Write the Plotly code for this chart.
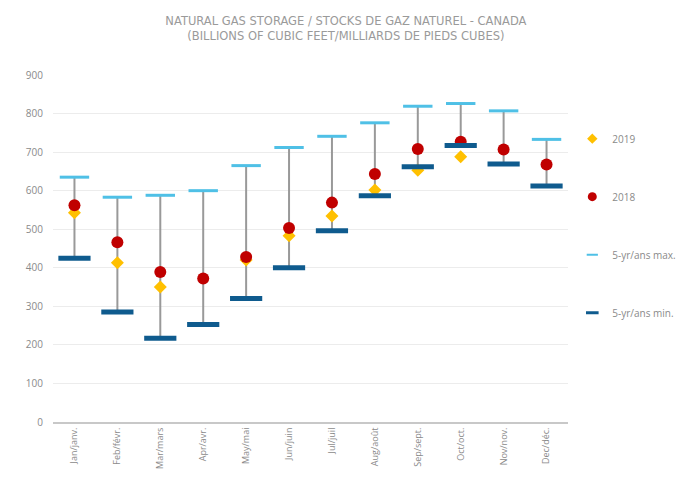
import plotly.graph_objects as go

months = ["Jan/janv.", "Feb/févr.", "Mar/mars", "Apr/avr.", "May/mai", "Jun/juin",
          "Jul/juil", "Aug/août", "Sep/sept.", "Oct/oct.", "Nov/nov.", "Dec/déc."]
max5 = [635, 583, 588, 600, 665, 712, 741, 776, 819, 826, 807, 733]
min5 = [425, 285, 217, 253, 320, 400, 496, 587, 662, 717, 669, 612]
y2018 = [562, 466, 389, 372, 428, 503, 569, 643, 708, 727, 707, 668]
y2019 = [543, 413, 350, None, 420, 483, 534, 602, 653, 688, None, None]

GRAY = "#8a8a8a"
C2019, C2018, CMAX, CMIN = "#FFC000", "#C00000", "#4FC0E6", "#0F5B8E"
fig = go.Figure()

# range line between 5-yr min and max
fig.add_trace(go.Scatter(
    x=months, y=min5, mode="markers", marker=dict(size=0.1, color="rgba(0,0,0,0)"),
    error_y=dict(type="data", symmetric=False,
                 array=[a - b for a, b in zip(max5, min5)],
                 arrayminus=[0] * len(min5), width=0, thickness=2, color="#999999"),
    showlegend=False, hoverinfo="skip"))

fig.add_trace(go.Scatter(
    x=months, y=y2019, mode="markers", name="2019", showlegend=False,
    marker=dict(symbol="diamond", size=10, color=C2019)))
fig.add_trace(go.Scatter(
    x=months, y=y2018, mode="markers", name="2018", showlegend=False,
    marker=dict(symbol="circle", size=12, color=C2018)))
fig.add_trace(go.Scatter(
    x=months, y=max5, mode="markers", name="5-yr/ans max.", showlegend=False,
    marker=dict(symbol="line-ew", size=21, color=CMAX,
                line=dict(color=CMAX, width=3))))
fig.add_trace(go.Scatter(
    x=months, y=min5, mode="markers", name="5-yr/ans min.", showlegend=False,
    marker=dict(symbol="line-ew", size=23, color=CMIN,
                line=dict(color=CMIN, width=5))))

# legend entries (small symbols as in the reference)
leg = [("2019", dict(symbol="diamond", size=8, color=C2019)),
       ("2018", dict(symbol="circle", size=9, color=C2018)),
       ("5-yr/ans max.", dict(symbol="line-ew", size=8, color=CMAX, line=dict(color=CMAX, width=2))),
       ("5-yr/ans min.", dict(symbol="line-ew", size=9, color=CMIN, line=dict(color=CMIN, width=3)))]
for i, (nm, mk) in enumerate(leg):
    fig.add_trace(go.Scatter(x=[None], y=[None], mode="markers", name=nm,
                             legendgroup="g%d" % i, marker=mk, hoverinfo="skip"))

fig.update_layout(
    width=684, height=480,
    margin=dict(l=45, r=124, t=67, b=66, autoexpand=False),
    paper_bgcolor="white", plot_bgcolor="white",
    font=dict(family="Open Sans", color=GRAY, size=10),
    title=dict(
        text="NATURAL GAS STORAGE / STOCKS DE GAZ NATUREL - CANADA<br>(BILLIONS OF CUBIC FEET/MILLIARDS DE PIEDS CUBES)",
        x=0.494, xanchor="center", xref="container", y=0.965, yanchor="top",
        font=dict(family="DejaVu Sans", size=11.5, color="#9a9a9a")),
    showlegend=True,
    legend=dict(xref="container", yref="container", x=0.825, xanchor="left",
                y=0.758, yanchor="top", itemsizing="trace",
                tracegroupgap=39, font=dict(size=10, color=GRAY),
                bgcolor="rgba(0,0,0,0)"),
    xaxis=dict(range=[-0.5, 11.5], showgrid=False, showline=True,
               linecolor="#c8c8c8", linewidth=2,
               tickangle=-90, tickfont=dict(size=9, color=GRAY), ticks="",
               automargin=False),
    yaxis=dict(range=[0, 900], dtick=100, showgrid=True, gridcolor="#ececec",
               zeroline=False, showline=False, tickfont=dict(size=10, color=GRAY),
               ticks="", ticklabelstandoff=9, automargin=False),
)

fig.write_html("out.html")
